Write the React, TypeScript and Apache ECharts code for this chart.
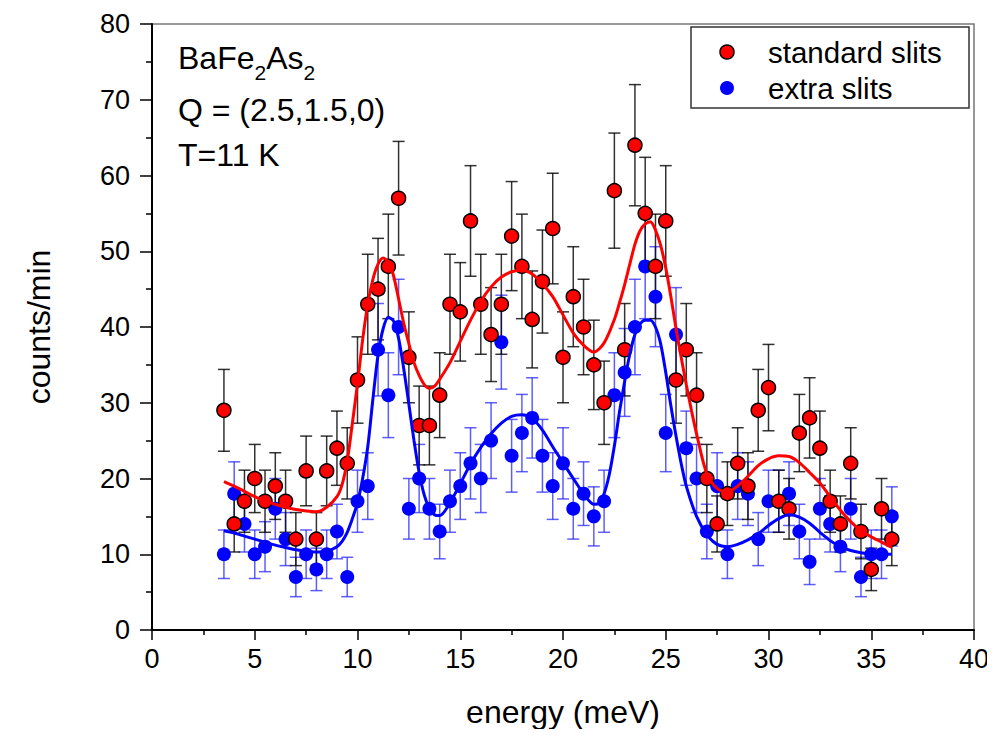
import React, { useEffect, useRef } from "react";
import * as echarts from "echarts";

// energy transfer (meV) for every measured point
const energy = [
  3.5, 4, 4.5, 5, 5.5, 6, 6.5, 7, 7.5, 8, 8.5, 9, 9.5, 10, 10.5, 11, 11.5, 12, 12.5, 13,
  13.5, 14, 14.5, 15, 15.5, 16, 16.5, 17, 17.5, 18, 18.5, 19, 19.5, 20, 20.5, 21, 21.5, 22, 22.5, 23,
  23.5, 24, 24.5, 25, 25.5, 26, 26.5, 27, 27.5, 28, 28.5, 29, 29.5, 30, 30.5, 31, 31.5, 32, 32.5, 33,
  33.5, 34, 34.5, 35, 35.5, 36,
];

// standard slits (red)
const standardCounts = [
  29, 14, 17, 20, 17, 19, 17, 12, 21, 12, 21, 24, 22, 33, 43, 45, 48, 57, 36, 27,
  27, 31, 43, 42, 54, 43, 39, 43, 52, 48, 41, 46, 53, 36, 44, 40, 35, 30, 58, 37,
  64, 55, 48, 54, 33, 37, 31, 20, 14, 18, 22, 19, 29, 32, 17, 16, 26, 28, 24, 17,
  14, 22, 13, 8, 16, 12,
];
const standardErr = [
  5.4, 3.7, 4.1, 4.5, 4.1, 4.4, 4.1, 3.5, 4.6, 3.5, 4.6, 4.9, 4.7, 5.7, 6.6, 6.7, 6.9, 7.5, 6.0, 5.2,
  5.2, 5.6, 6.6, 6.5, 7.3, 6.6, 6.2, 6.6, 7.2, 6.9, 6.4, 6.8, 7.3, 6.0, 6.6, 6.3, 5.9, 5.5, 7.6, 6.1,
  8.0, 7.4, 6.9, 7.3, 5.7, 6.1, 5.6, 4.5, 3.7, 4.2, 4.7, 4.4, 5.4, 5.7, 4.1, 4.0, 5.1, 5.3, 4.9, 4.1,
  3.7, 4.7, 3.6, 2.8, 4.0, 3.5,
];

// extra slits (blue)
const extraCounts = [
  10, 18, 14, 10, 11, 16, 12, 7, 10, 8, 10, 13, 7, 17, 19, 37, 31, 40, 16, 20,
  16, 13, 17, 19, 22, 20, 25, 38, 23, 26, 28, 23, 19, 22, 16, 18, 15, 17, 31, 34,
  40, 48, 44, 26, 39, 24, 20, 13, 19, 10, 19, 18, 12, 17, 17, 18, 13, 9, 16, 14,
  11, 16, 7, 10, 10, 15,
];
const extraErr = [
  3.2, 4.2, 3.7, 3.2, 3.3, 4.0, 3.5, 2.6, 3.2, 2.8, 3.2, 3.6, 2.6, 4.1, 4.4, 6.1, 5.6, 6.3, 4.0, 4.5,
  4.0, 3.6, 4.1, 4.4, 4.7, 4.5, 5.0, 6.2, 4.8, 5.1, 5.3, 4.8, 4.4, 4.7, 4.0, 4.2, 3.9, 4.1, 5.6, 5.8,
  6.3, 6.9, 6.6, 5.1, 6.2, 4.9, 4.5, 3.6, 4.4, 3.2, 4.4, 4.2, 3.5, 4.1, 4.1, 4.2, 3.6, 3.0, 4.0, 3.7,
  3.3, 4.0, 2.6, 3.2, 3.2, 3.9,
];

// fitted curves
const fitStandardX = [
  3.5, 4, 4.5, 5, 5.5, 6, 6.5, 7, 7.5, 8, 8.5, 9, 9.25, 9.5, 9.75, 10, 10.25, 10.5, 10.75, 11,
  11.25, 11.5, 11.75, 12, 12.25, 12.5, 12.75, 13, 13.25, 13.5, 13.75, 14, 14.5, 15, 15.5, 16, 16.5, 17, 17.5, 18,
  18.5, 19, 19.5, 20, 20.5, 21, 21.5, 22, 22.5, 22.75, 23, 23.25, 23.5, 23.75, 24, 24.25, 24.5, 24.75, 25, 25.25,
  25.5, 25.75, 26, 26.25, 26.5, 27, 27.5, 28, 28.5, 29, 29.5, 30, 30.5, 31, 31.5, 32, 32.5, 33, 33.5, 34,
  34.5, 35, 35.5, 36,
];
const fitStandardY = [
  19.6, 19.0, 18.3, 17.6, 17.0, 16.6, 16.2, 15.9, 15.7, 15.6, 16.2, 17.6, 19.2, 22.3, 27.3, 32.5, 38.3, 43.0, 46.3, 48.3,
  49.1, 48.6, 46.8, 43.7, 40.5, 37.8, 35.3, 33.6, 32.4, 31.9, 32.2, 33.1, 35.3, 38.1, 40.9, 43.4, 45.3, 46.6, 47.3, 47.5,
  47.0, 45.7, 44.0, 41.6, 39.2, 37.6, 36.7, 37.9, 41.0, 43.2, 45.6, 48.3, 50.9, 52.7, 53.6, 53.9, 52.8, 50.8, 47.8, 44.0,
  39.8, 36.0, 32.4, 29.0, 25.9, 20.6, 18.7, 18.2, 19.0, 20.3, 21.7, 22.6, 23.0, 22.9, 22.1, 20.8, 19.4, 17.6, 15.8, 14.3,
  13.1, 12.3, 11.6, 10.9,
];
const fitExtraX = [
  3.5, 4, 4.5, 5, 5.5, 6, 6.5, 7, 7.5, 8, 8.5, 9, 9.25, 9.5, 9.75, 10, 10.25, 10.5, 10.75, 11,
  11.25, 11.5, 11.75, 12, 12.25, 12.5, 12.75, 13, 13.25, 13.5, 13.75, 14, 14.5, 15, 15.5, 16, 16.5, 17, 17.5, 18,
  18.5, 19, 19.5, 20, 20.5, 21, 21.5, 21.75, 22, 22.25, 22.5, 22.75, 23, 23.25, 23.5, 23.75, 24, 24.25, 24.5, 24.75,
  25, 25.25, 25.5, 25.75, 26, 26.5, 27, 27.5, 28, 28.5, 29, 29.5, 30, 30.5, 31, 31.5, 32, 32.5, 33, 33.5,
  34, 34.5, 35, 35.5, 36,
];
const fitExtraY = [
  13.1, 12.8, 12.4, 12.0, 11.6, 11.2, 10.9, 10.6, 10.4, 10.3, 10.4, 11.0, 11.7, 12.9, 14.7, 16.8, 20.0, 24.2, 30.5, 36.3,
  39.8, 41.3, 40.8, 38.5, 34.5, 29.8, 25.0, 20.8, 17.8, 16.0, 15.2, 15.1, 16.8, 19.3, 21.9, 24.1, 25.9, 27.3, 28.2, 28.4,
  27.9, 26.4, 24.2, 22.1, 20.0, 18.0, 16.6, 16.7, 18.0, 20.5, 24.3, 28.8, 32.8, 36.4, 39.0, 40.4, 40.9, 40.9, 40.0, 37.8,
  34.0, 29.6, 25.6, 22.0, 19.0, 15.0, 12.6, 11.3, 11.0, 11.3, 11.9, 12.7, 13.8, 14.7, 15.2, 14.9, 14.1, 12.9, 11.8, 11.0,
  10.5, 10.2, 10.0, 10.0, 10.0,
];

const xTicks = { min: 0, max: 40, interval: 5 };
const yTicks = { min: 0, max: 80, interval: 10 };

const FONT = "'Liberation Sans', Arial, Helvetica, sans-serif";

function errorBars(name: string, counts: number[], errs: number[], color: string) {
  return {
    type: "custom",
    name,
    silent: true,
    data: energy.map((e, i) => [e, counts[i] - errs[i], counts[i] + errs[i]]),
    encode: { x: 0, y: [1, 2] },
    renderItem: (params: any, api: any) => {
      const x = api.value(0);
      const lo = api.coord([x, api.value(1)]);
      const hi = api.coord([x, api.value(2)]);
      const w = 6;
      const style = { stroke: color, lineWidth: 1.5, fill: "none" };
      return {
        type: "group",
        children: [
          { type: "line", shape: { x1: lo[0], y1: lo[1], x2: hi[0], y2: hi[1] }, style },
          { type: "line", shape: { x1: lo[0] - w, y1: lo[1], x2: lo[0] + w, y2: lo[1] }, style },
          { type: "line", shape: { x1: hi[0] - w, y1: hi[1], x2: hi[0] + w, y2: hi[1] }, style },
        ],
      };
    },
  };
}

export default function App() {
  const ref = useRef<HTMLDivElement>(null);

  useEffect(() => {
    if (!ref.current) return;
    const chart = echarts.init(ref.current, undefined, { renderer: "svg" });
    const axisText = { color: "#000", fontFamily: FONT };
    chart.setOption({
      animation: false,
      backgroundColor: "#fff",
      grid: {
        left: 152,
        right: 21,
        top: 24,
        bottom: 107,
        show: true,
        borderColor: "#777",
        borderWidth: 1.5,
        outerBoundsMode: "none",
      },
      xAxis: {
        type: "value",
        ...xTicks,
        name: "energy (meV)",
        nameLocation: "middle",
        nameGap: 66,
        nameTextStyle: { ...axisText, fontSize: 32 },
        axisLine: { show: true, lineStyle: { color: "#000", width: 2 } },
        axisTick: { show: true, length: 10, lineStyle: { color: "#000", width: 1.5 } },
        minorTick: { show: true, splitNumber: 2, length: 5, lineStyle: { color: "#000", width: 1.5 } },
        axisLabel: { ...axisText, fontSize: 27, margin: 15 },
        splitLine: { show: false },
      },
      yAxis: {
        type: "value",
        ...yTicks,
        name: "counts/min",
        nameLocation: "middle",
        nameGap: 97,
        nameTextStyle: { ...axisText, fontSize: 32 },
        axisLine: { show: true, lineStyle: { color: "#000", width: 2 } },
        axisTick: { show: true, length: 12, lineStyle: { color: "#000", width: 1.5 } },
        minorTick: { show: true, splitNumber: 2, length: 6, lineStyle: { color: "#000", width: 1.5 } },
        axisLabel: { ...axisText, fontSize: 27, margin: 22 },
        splitLine: { show: false },
      },
      graphic: [
        {
          type: "text",
          left: 178,
          top: 42,
          style: {
            text: "{n|BaFe}{s|2}{n|As}{s|2}",
            fontFamily: FONT,
            rich: {
              n: { fontSize: 32, fontFamily: FONT, fill: "#000", lineHeight: 36, verticalAlign: "middle" },
              s: { fontSize: 21, fontFamily: FONT, fill: "#000", lineHeight: 36, verticalAlign: "bottom", padding: [0, 0, -7, 0] },
            },
          },
        },
        {
          type: "text",
          left: 178,
          top: 94,
          style: { text: "Q = (2.5,1.5,0)", fontSize: 32, fontFamily: FONT, fill: "#000" },
        },
        {
          type: "text",
          left: 178,
          top: 139,
          style: { text: "T=11 K", fontSize: 32, fontFamily: FONT, fill: "#000" },
        },
        {
          type: "rect",
          shape: { x: 691, y: 27, width: 278, height: 81 },
          style: { fill: "#fff", stroke: "#333", lineWidth: 1.5 },
          z: 50,
        },
        {
          type: "circle",
          shape: { cx: 727, cy: 52, r: 7 },
          style: { fill: "#ff0000", stroke: "#000", lineWidth: 1.5 },
          z: 51,
        },
        {
          type: "circle",
          shape: { cx: 727, cy: 88, r: 7 },
          style: { fill: "#0000ff" },
          z: 51,
        },
        {
          type: "text",
          x: 768,
          y: 52,
          style: { text: "standard slits", fontSize: 29.5, fontFamily: FONT, fill: "#000", verticalAlign: "middle" },
          z: 51,
        },
        {
          type: "text",
          x: 768,
          y: 88,
          style: { text: "extra slits", fontSize: 29.5, fontFamily: FONT, fill: "#000", verticalAlign: "middle" },
          z: 51,
        },
      ],
      series: [
        errorBars("extra slits error", extraCounts, extraErr, "rgba(40,40,255,0.75)"),
        {
          type: "line",
          name: "extra slits fit",
          data: fitExtraX.map((x, i) => [x, fitExtraY[i]]),
          showSymbol: false,
          smooth: 0.3,
          lineStyle: { color: "#0000ff", width: 3 },
          silent: true,
        },
        {
          type: "scatter",
          name: "extra slits",
          data: energy.map((x, i) => [x, extraCounts[i]]),
          symbolSize: 14,
          itemStyle: { color: "#0000ff", opacity: 1 },
        },
        errorBars("standard slits error", standardCounts, standardErr, "rgba(0,0,0,0.8)"),
        {
          type: "line",
          name: "standard slits fit",
          data: fitStandardX.map((x, i) => [x, fitStandardY[i]]),
          showSymbol: false,
          smooth: 0.3,
          lineStyle: { color: "#ff0000", width: 3 },
          silent: true,
        },
        {
          type: "scatter",
          name: "standard slits",
          data: energy.map((x, i) => [x, standardCounts[i]]),
          symbolSize: 14,
          itemStyle: { color: "#ff0000", borderColor: "#000", borderWidth: 1.5, opacity: 1 },
        },
      ],
    });
    return () => chart.dispose();
  }, []);

  return <div ref={ref} style={{ width: 995, height: 737, margin: -8 }} />;
}
